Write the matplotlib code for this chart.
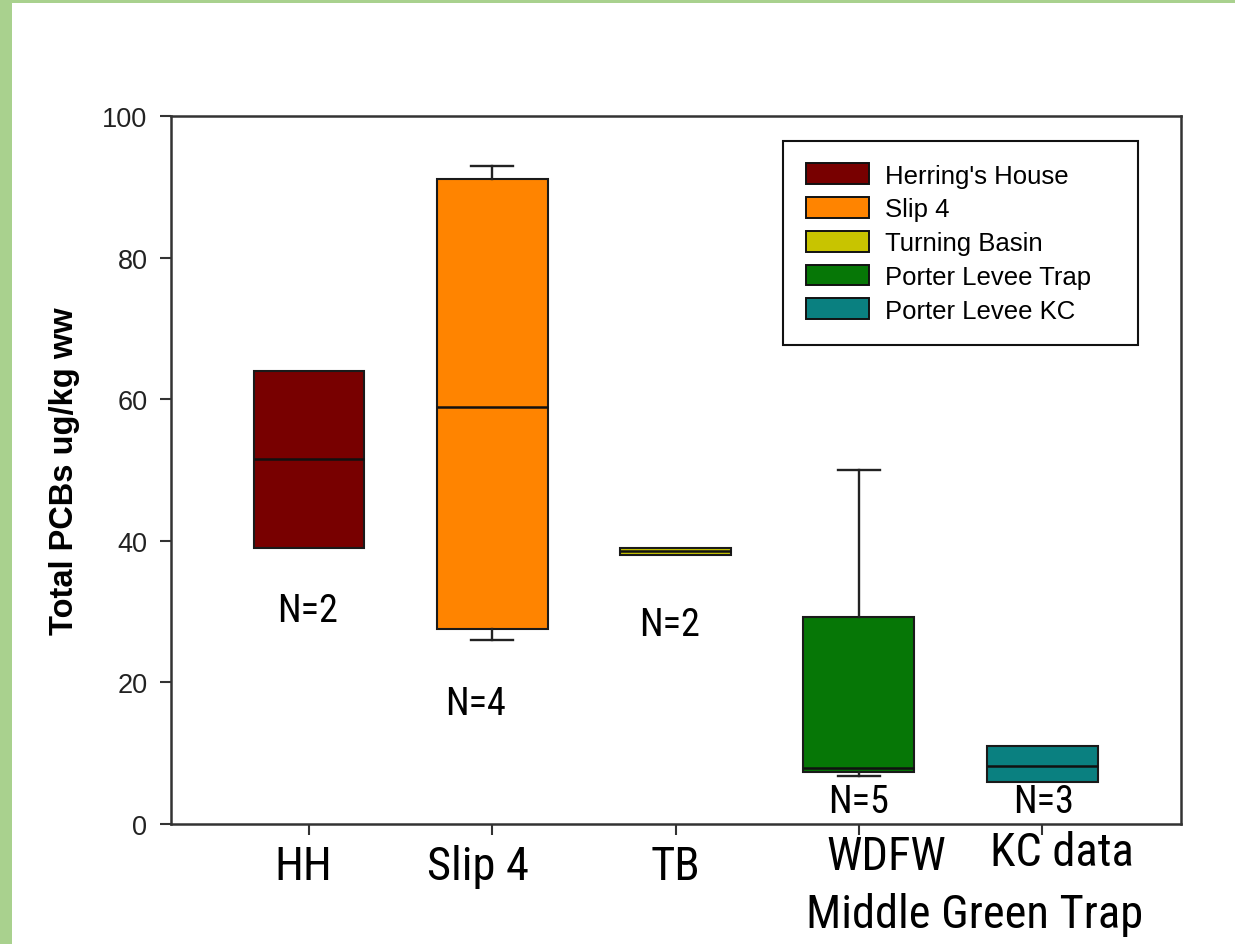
import matplotlib
matplotlib.use("Agg")
import matplotlib.pyplot as plt
from matplotlib.patches import Patch, Rectangle
import matplotlib.transforms as mtransforms

# ---- data ----
sites = ["Herring's House", "Slip 4", "Turning Basin", "Porter Levee Trap", "Porter Levee KC"]
q1 = [39.0, 27.5, 38.0, 7.3, 5.9]
med = [51.6, 58.9, 38.5, 7.9, 8.2]
q3 = [64.0, 91.1, 39.0, 29.2, 11.0]
whislo = [39.0, 26.0, 38.0, 6.8, 5.9]
whishi = [64.0, 92.9, 39.0, 50.0, 11.0]
n_counts = [2, 4, 2, 5, 3]
n_label_y = [28.7, 15.6, 26.7, 1.7, 1.7]
n_label_dx = [-0.01, -0.09, -0.03, 0.0, 0.01]
colors = ["#780000", "#FF8400", "#C8C400", "#067706", "#0A8080"]
yticks = [0, 20, 40, 60, 80, 100]
cat_labels = ["HH", "Slip 4", "TB", "WDFW", "KC data", "Middle Green Trap"]

narrow = ["Liberation Sans Narrow", "Arial Narrow", "Roboto Condensed",
          "DejaVu Sans Condensed", "Open Sans Condensed", "Noto Sans Condensed",
          "DejaVu Sans"]
arial = ["Liberation Sans", "DejaVu Sans"]

fig = plt.figure(figsize=(12.35, 9.45), dpi=100)
ax = fig.add_axes([171 / 1235, 1 - 825 / 945, 1010 / 1235, 708 / 945])

positions = list(range(1, len(sites) + 1))
stats = []
for i in range(len(sites)):
    stats.append(dict(med=med[i], q1=q1[i], q3=q3[i], whislo=whislo[i],
                      whishi=whishi[i], fliers=[], label=sites[i]))

bp = ax.bxp(stats, positions=positions, widths=0.605, patch_artist=True,
            showfliers=False, capwidths=0.23,
            boxprops=dict(linewidth=1.5, edgecolor="#1a1a1a"),
            medianprops=dict(color="#111111", linewidth=1.8),
            whiskerprops=dict(color="#222222", linewidth=1.7),
            capprops=dict(color="#222222", linewidth=1.7))
for patch, c in zip(bp["boxes"], colors):
    patch.set_facecolor(c)
for i in range(len(sites)):
    if whislo[i] >= q1[i]:
        bp["caps"][2 * i].set_visible(False)
        bp["whiskers"][2 * i].set_visible(False)
    if whishi[i] <= q3[i]:
        bp["caps"][2 * i + 1].set_visible(False)
        bp["whiskers"][2 * i + 1].set_visible(False)

ax.set_xlim(0.247, 5.758)
ax.set_ylim(0, 100)
ax.set_yticks(yticks)
ax.set_yticklabels([str(t) for t in yticks], fontsize=19.5, family=arial, color="#222222")
ax.set_xticks(positions)
ax.set_xticklabels([""] * len(positions))
ax.tick_params(axis="both", direction="out", length=8, width=1.5, color="#333333")
ax.tick_params(axis="y", pad=9)
for s in ax.spines.values():
    s.set_linewidth(1.8)
    s.set_color("#333333")

ax.set_ylabel("Total PCBs ug/kg ww", fontsize=23.5, fontweight="bold", family=arial,
              labelpad=16)

# N labels
for i in range(len(sites)):
    ax.text(positions[i] + n_label_dx[i], n_label_y[i], f"N={n_counts[i]}",
            ha="center", va="baseline", fontsize=27.5, family=narrow,
            fontstretch="condensed")

# category labels under the axis
trans = mtransforms.blended_transform_factory(ax.transData, ax.transAxes)
cat_x = [0.967, 1.92, 3.0, 4.15, 5.11, 4.63]
cat_y = [-0.078, -0.078, -0.078, -0.064, -0.058, -0.145]
for t, x, y in zip(cat_labels, cat_x, cat_y):
    ax.text(x, y, t, transform=trans, ha="center", va="baseline", fontsize=33.5,
            family=narrow, fontstretch="condensed")

handles = [Patch(facecolor=c, edgecolor="#111111", linewidth=1.4) for c in colors]
leg = ax.legend(handles, sites, loc="upper left",
                bbox_to_anchor=(0.606, 0.965, 0.351, 0.0), mode="expand",
                prop=dict(family=arial, size=18.5),
                handlelength=2.45, handleheight=0.86, handletextpad=0.62,
                labelspacing=0.37, borderpad=0.88, fancybox=False, framealpha=1,
                edgecolor="#111111", borderaxespad=0)
leg.get_frame().set_linewidth(1.5)

# green border
fig.add_artist(Rectangle((0, 0), 12 / 1235, 1, transform=fig.transFigure,
                         facecolor="#A9D18E", edgecolor="none"))
fig.add_artist(Rectangle((0, 1 - 4 / 945), 1, 4 / 945, transform=fig.transFigure,
                         facecolor="#A9D18E", edgecolor="none"))

fig.savefig("out.png", dpi=100)
